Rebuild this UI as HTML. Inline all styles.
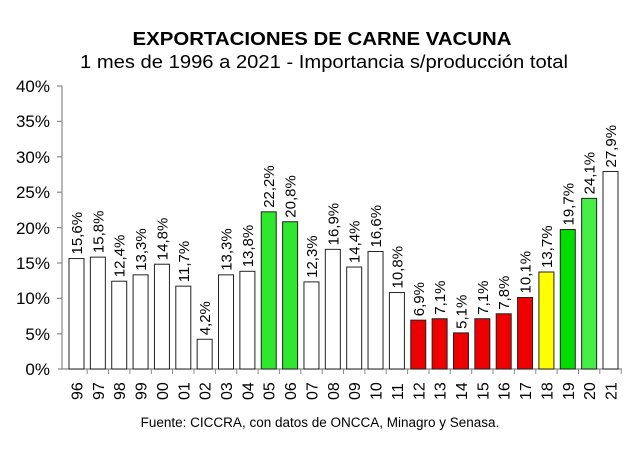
<!DOCTYPE html>
<html><head><meta charset="utf-8"><style>body{margin:0;background:#fff}svg{display:block}</style></head><body>
<svg width="640" height="449" xmlns="http://www.w3.org/2000/svg" font-family="Liberation Sans, Arial, sans-serif">
<rect width="640" height="449" fill="#fff"/>
<text x="322" y="45" font-size="18" font-weight="bold" text-anchor="middle" textLength="379" lengthAdjust="spacingAndGlyphs">EXPORTACIONES DE CARNE VACUNA</text>
<text x="324" y="68" font-size="18" text-anchor="middle" textLength="488" lengthAdjust="spacingAndGlyphs">1 mes de 1996 a 2021 - Importancia s/producción total</text>
<g font-size="17" text-anchor="end">
<text x="50" y="375">0%</text><text x="50" y="340">5%</text><text x="50" y="304">10%</text><text x="50" y="269">15%</text><text x="50" y="234">20%</text><text x="50" y="198">25%</text><text x="50" y="163">30%</text><text x="50" y="127">35%</text><text x="50" y="92">40%</text>
</g>
<g stroke="#888" stroke-width="1.2">
<line x1="62" y1="86" x2="62" y2="369"/>
<line x1="58" y1="369" x2="622" y2="369"/>
<line x1="57" x2="62" y1="86" y2="86"/><line x1="57" x2="62" y1="121.4" y2="121.4"/><line x1="57" x2="62" y1="156.8" y2="156.8"/><line x1="57" x2="62" y1="192.2" y2="192.2"/><line x1="57" x2="62" y1="227.6" y2="227.6"/><line x1="57" x2="62" y1="263" y2="263"/><line x1="57" x2="62" y1="298.4" y2="298.4"/><line x1="57" x2="62" y1="333.8" y2="333.8"/>
</g>
<g stroke="#222" stroke-width="1">
<rect x="69" y="258.55" width="15" height="110.45" fill="#fff"/>
<rect x="90.36" y="257.14" width="15" height="111.86" fill="#fff"/>
<rect x="111.72" y="281.21" width="15" height="87.79" fill="#fff"/>
<rect x="133.08" y="274.84" width="15" height="94.16" fill="#fff"/>
<rect x="154.44" y="264.22" width="15" height="104.78" fill="#fff"/>
<rect x="175.8" y="286.16" width="15" height="82.84" fill="#fff"/>
<rect x="197.16" y="339.26" width="15" height="29.74" fill="#fff"/>
<rect x="218.52" y="274.84" width="15" height="94.16" fill="#fff"/>
<rect x="239.88" y="271.3" width="15" height="97.7" fill="#fff"/>
<rect x="261.24" y="211.82" width="15" height="157.18" fill="#2ee82e"/>
<rect x="282.6" y="221.74" width="15" height="147.26" fill="#2ee82e"/>
<rect x="303.96" y="281.92" width="15" height="87.08" fill="#fff"/>
<rect x="325.32" y="249.35" width="15" height="119.65" fill="#fff"/>
<rect x="346.68" y="267.05" width="15" height="101.95" fill="#fff"/>
<rect x="368.04" y="251.47" width="15" height="117.53" fill="#fff"/>
<rect x="389.4" y="292.54" width="15" height="76.46" fill="#fff"/>
<rect x="410.76" y="320.15" width="15" height="48.85" fill="#ee0000"/>
<rect x="432.12" y="318.73" width="15" height="50.27" fill="#ee0000"/>
<rect x="453.48" y="332.89" width="15" height="36.11" fill="#ee0000"/>
<rect x="474.84" y="318.73" width="15" height="50.27" fill="#ee0000"/>
<rect x="496.2" y="313.78" width="15" height="55.22" fill="#ee0000"/>
<rect x="517.56" y="297.49" width="15" height="71.51" fill="#ee0000"/>
<rect x="538.92" y="272" width="15" height="97" fill="#ffff00"/>
<rect x="560.28" y="229.52" width="15" height="139.48" fill="#00dd00"/>
<rect x="581.64" y="198.37" width="15" height="170.63" fill="#44ee44"/>
<rect x="603" y="171.47" width="15" height="197.53" fill="#fff"/>
</g>
<g stroke="#888" stroke-width="1">
<line x1="87.2" x2="87.2" y1="369" y2="374"/><line x1="108.6" x2="108.6" y1="369" y2="374"/><line x1="129.9" x2="129.9" y1="369" y2="374"/><line x1="151.3" x2="151.3" y1="369" y2="374"/><line x1="172.6" x2="172.6" y1="369" y2="374"/><line x1="194" x2="194" y1="369" y2="374"/><line x1="215.4" x2="215.4" y1="369" y2="374"/><line x1="236.7" x2="236.7" y1="369" y2="374"/><line x1="258.1" x2="258.1" y1="369" y2="374"/><line x1="279.4" x2="279.4" y1="369" y2="374"/><line x1="300.8" x2="300.8" y1="369" y2="374"/><line x1="322.2" x2="322.2" y1="369" y2="374"/><line x1="343.5" x2="343.5" y1="369" y2="374"/><line x1="364.9" x2="364.9" y1="369" y2="374"/><line x1="386.2" x2="386.2" y1="369" y2="374"/><line x1="407.6" x2="407.6" y1="369" y2="374"/><line x1="429" x2="429" y1="369" y2="374"/><line x1="450.3" x2="450.3" y1="369" y2="374"/><line x1="471.7" x2="471.7" y1="369" y2="374"/><line x1="493" x2="493" y1="369" y2="374"/><line x1="514.4" x2="514.4" y1="369" y2="374"/><line x1="535.8" x2="535.8" y1="369" y2="374"/><line x1="557.1" x2="557.1" y1="369" y2="374"/><line x1="578.5" x2="578.5" y1="369" y2="374"/><line x1="599.8" x2="599.8" y1="369" y2="374"/><line x1="621.2" x2="621.2" y1="369" y2="374"/>
</g>
<g font-size="15">
<text transform="translate(82,254.5) rotate(-90)">15,6%</text>
<text transform="translate(103.4,253.1) rotate(-90)">15,8%</text>
<text transform="translate(124.7,277.2) rotate(-90)">12,4%</text>
<text transform="translate(146.1,270.8) rotate(-90)">13,3%</text>
<text transform="translate(167.4,260.2) rotate(-90)">14,8%</text>
<text transform="translate(188.8,282.2) rotate(-90)">11,7%</text>
<text transform="translate(210.2,335.3) rotate(-90)">4,2%</text>
<text transform="translate(231.5,270.8) rotate(-90)">13,3%</text>
<text transform="translate(252.9,267.3) rotate(-90)">13,8%</text>
<text transform="translate(274.2,207.8) rotate(-90)">22,2%</text>
<text transform="translate(295.6,217.7) rotate(-90)">20,8%</text>
<text transform="translate(317,277.9) rotate(-90)">12,3%</text>
<text transform="translate(338.3,245.4) rotate(-90)">16,9%</text>
<text transform="translate(359.7,263.1) rotate(-90)">14,4%</text>
<text transform="translate(381,247.5) rotate(-90)">16,6%</text>
<text transform="translate(402.4,288.5) rotate(-90)">10,8%</text>
<text transform="translate(423.8,316.2) rotate(-90)">6,9%</text>
<text transform="translate(445.1,314.7) rotate(-90)">7,1%</text>
<text transform="translate(466.5,328.9) rotate(-90)">5,1%</text>
<text transform="translate(487.8,314.7) rotate(-90)">7,1%</text>
<text transform="translate(509.2,309.8) rotate(-90)">7,8%</text>
<text transform="translate(530.6,293.5) rotate(-90)">10,1%</text>
<text transform="translate(551.9,268) rotate(-90)">13,7%</text>
<text transform="translate(573.3,225.5) rotate(-90)">19,7%</text>
<text transform="translate(594.6,194.4) rotate(-90)">24,1%</text>
<text transform="translate(616,167.5) rotate(-90)">27,9%</text>
</g>
<g font-size="16">
<text transform="translate(82.5,400) rotate(-90)">96</text>
<text transform="translate(103.9,400) rotate(-90)">97</text>
<text transform="translate(125.2,400) rotate(-90)">98</text>
<text transform="translate(146.6,400) rotate(-90)">99</text>
<text transform="translate(167.9,400) rotate(-90)">00</text>
<text transform="translate(189.3,400) rotate(-90)">01</text>
<text transform="translate(210.7,400) rotate(-90)">02</text>
<text transform="translate(232,400) rotate(-90)">03</text>
<text transform="translate(253.4,400) rotate(-90)">04</text>
<text transform="translate(274.7,400) rotate(-90)">05</text>
<text transform="translate(296.1,400) rotate(-90)">06</text>
<text transform="translate(317.5,400) rotate(-90)">07</text>
<text transform="translate(338.8,400) rotate(-90)">08</text>
<text transform="translate(360.2,400) rotate(-90)">09</text>
<text transform="translate(381.5,400) rotate(-90)">10</text>
<text transform="translate(402.9,400) rotate(-90)">11</text>
<text transform="translate(424.3,400) rotate(-90)">12</text>
<text transform="translate(445.6,400) rotate(-90)">13</text>
<text transform="translate(467,400) rotate(-90)">14</text>
<text transform="translate(488.3,400) rotate(-90)">15</text>
<text transform="translate(509.7,400) rotate(-90)">16</text>
<text transform="translate(531.1,400) rotate(-90)">17</text>
<text transform="translate(552.4,400) rotate(-90)">18</text>
<text transform="translate(573.8,400) rotate(-90)">19</text>
<text transform="translate(595.1,400) rotate(-90)">20</text>
<text transform="translate(616.5,400) rotate(-90)">21</text>
</g>
<text x="320" y="427" font-size="13.5" text-anchor="middle">Fuente: CICCRA, con datos de ONCCA, Minagro y Senasa.</text>
</svg>
</body></html>
